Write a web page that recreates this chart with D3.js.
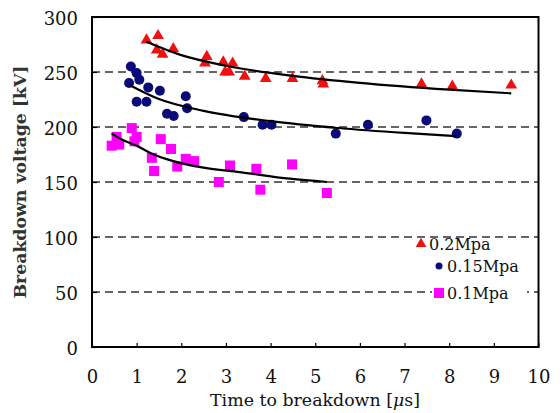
<!DOCTYPE html>
<html><head><meta charset="utf-8">
<script src="https://cdn.jsdelivr.net/npm/d3@7"></script>
<style>body{margin:0;background:#fff}</style>
</head><body>
<svg id="c" width="560" height="413"></svg>
<script>
// ---- data ----
const seriesNames = ["0.2Mpa", "0.15Mpa", "0.1Mpa"];
const t02 = [1.22,1.48,1.45,1.58,1.82,2.57,2.53,2.94,2.98,3.07,3.15,3.42,3.89,4.49,5.16,5.18,7.38,8.07,9.39];
const v02 = [279,283,270,266,271,264,258,259,250,250,258,246,244,244,242,239,239,237,238];
const t015 = [0.87,1.0,1.06,0.83,1.26,1.52,1.0,1.22,2.10,2.13,1.68,1.83,3.40,3.82,4.02,5.46,6.18,7.49,8.17];
const v015 = [255,249,243,240,236,233,223,223,228,217,212,210,209,202,202,194,202,206,194];
const t01 = [0.44,0.61,0.55,0.89,1.0,0.95,1.54,1.77,1.34,1.39,1.91,2.10,2.29,3.09,2.84,3.68,3.77,4.48,5.26];
const v01 = [183,184,191,199,191,187,189,180,172,160,164,171,169,165,150,162,143,166,140];
// trend lines
const trendT02 = [1.22,2,3,4.5,6,8,9.39];
const trendV02 = [277.5,265.3,255.7,246.5,240.1,233.9,230.6];
const trendT015 = [0.85,1.5,2.5,4,5.5,7,8.16];
const trendV015 = [238,225.4,214.7,205.3,199.1,194.6,191.8];
const trendT01 = [0.44,0.7,1.0,1.33,1.82,2.5,3.31,4.43,5.26];
const trendV01 = [194,188,183,176,169,163,159,153,150];
const xTicks = [0,1,2,3,4,5,6,7,8,9,10];
const yTicks = [0,50,100,150,200,250,300];
const gridTicks = [50,100,150,200,250];

const svg = d3.select("#c");
const L = 92, R = 538.5, T = 17, B = 347;
const x = d3.scaleLinear().domain([0,10]).range([L,R]);
const y = d3.scaleLinear().domain([0,300]).range([B,T]);
const serif = "'DejaVu Serif', 'Liberation Serif', serif";

// gridlines
svg.append("g").selectAll("line").data(gridTicks).join("line")
  .attr("x1", L).attr("x2", R).attr("y1", d=>y(d)).attr("y2", d=>y(d))
  .attr("stroke", "#333").attr("stroke-width", 1.4).attr("stroke-dasharray", "8,5");

// axes (ticks inside)
const xAxis = svg.append("g").attr("transform", `translate(0,${B})`)
  .call(d3.axisBottom(x).tickValues(xTicks).tickSize(-4).tickPadding(23).tickFormat(d3.format("d")));
const yAxis = svg.append("g").attr("transform", `translate(${L},0)`)
  .call(d3.axisLeft(y).tickValues(yTicks).tickSize(-5).tickPadding(14).tickFormat(d3.format("d")));
[xAxis, yAxis].forEach(g => {
  g.select(".domain").remove();
  g.selectAll(".tick line").attr("stroke", "#000").attr("stroke-width", 1.2);
  g.selectAll("text").attr("font-family", serif).attr("font-size", 18).attr("fill", "#111");
});
yAxis.selectAll("text").attr("dy", "0.4em");

// frame
svg.append("rect").attr("x", L).attr("y", T).attr("width", R-L).attr("height", B-T)
  .attr("fill", "none").attr("stroke", "#000").attr("stroke-width", 2);

// legend background
svg.append("rect").attr("x", 432).attr("y", 252).attr("width", 95).attr("height", 54).attr("fill", "#fff");

// points
const zip = (ts, vs) => ts.map((t,i)=>({t, v: vs[i]}));
const tri = d3.symbol().type(d3.symbolTriangle).size(60);
svg.append("g").selectAll("path").data(zip(t02, v02)).join("path")
  .attr("d", tri).attr("transform", d=>`translate(${x(d.t)},${y(d.v)})`).attr("fill", "#f01010");
svg.append("g").selectAll("circle").data(zip(t015, v015)).join("circle")
  .attr("cx", d=>x(d.t)).attr("cy", d=>y(d.v)).attr("r", 5).attr("fill", "#0a0a78");
svg.append("g").selectAll("rect").data(zip(t01, v01)).join("rect")
  .attr("x", d=>x(d.t)-5).attr("y", d=>y(d.v)-5).attr("width", 10).attr("height", 10).attr("fill", "#ff00ff");

// trend lines
const line = d3.line().x(d=>x(d.t)).y(d=>y(d.v)).curve(d3.curveMonotoneX);
[[trendT02,trendV02],[trendT015,trendV015],[trendT01,trendV01]].forEach(([ts,vs]) => {
  svg.append("path").datum(zip(ts,vs)).attr("d", line)
    .attr("fill", "none").attr("stroke", "#000").attr("stroke-width", 2.2);
});

// legend
const legY = [244, 266, 293];
const legX = [421, 439, 439];
const lg = svg.append("g");
lg.append("path").attr("d", d3.symbol().type(d3.symbolTriangle).size(50)())
  .attr("transform", `translate(${legX[0]},${legY[0]})`).attr("fill", "#f01010");
lg.append("circle").attr("cx", legX[1]).attr("cy", legY[1]).attr("r", 3.5).attr("fill", "#0a0a78");
lg.append("rect").attr("x", legX[2]-5).attr("y", legY[2]-5).attr("width", 10).attr("height", 10).attr("fill", "#ff00ff");
lg.selectAll("text").data(seriesNames).join("text")
  .attr("x", (d,i)=>legX[i]+8).attr("y", (d,i)=>legY[i]).attr("dy", "0.36em")
  .attr("font-family", serif).attr("font-size", 16).attr("fill", "#111").text(d=>d);

// axis titles
svg.append("text").attr("x", 315).attr("y", 406).attr("text-anchor", "middle")
  .attr("font-family", serif).attr("font-size", 17).attr("fill", "#111")
  .attr("textLength", 210).attr("lengthAdjust", "spacingAndGlyphs")
  .html("Time to breakdown [<tspan font-style='italic'>μ</tspan>s]");
svg.append("text").attr("transform", "translate(26,182) rotate(-90)").attr("text-anchor", "middle")
  .attr("font-family", serif).attr("font-size", 16).attr("font-weight", "bold").attr("fill", "#333")
  .attr("textLength", 233).attr("lengthAdjust", "spacingAndGlyphs")
  .text("Breakdown voltage [kV]");
</script>
</body></html>
